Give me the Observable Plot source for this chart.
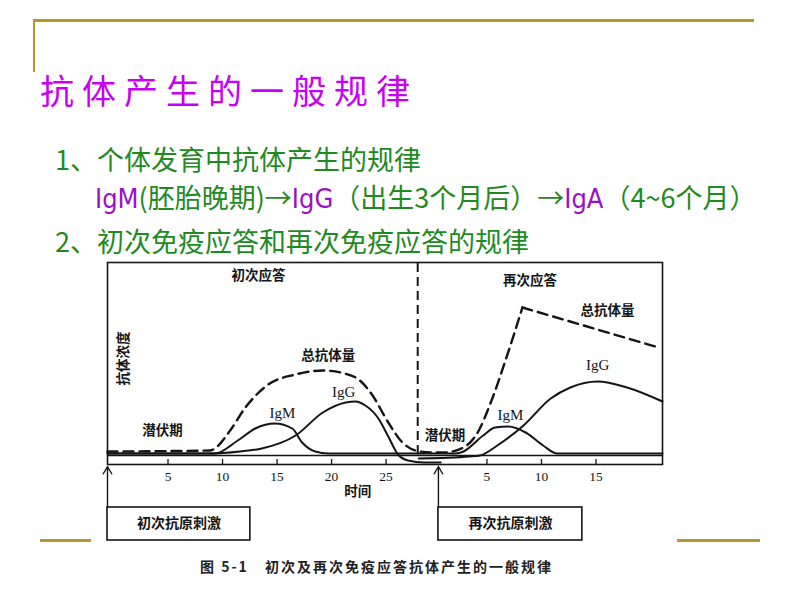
<!DOCTYPE html>
<html><head><meta charset="utf-8">
<script src="https://cdn.jsdelivr.net/npm/d3@7"></script>
<script src="https://cdn.jsdelivr.net/npm/@observablehq/plot@0.6"></script>
<style>
body{margin:0;background:#fff;}
#slide{position:relative;width:800px;height:600px;overflow:hidden;background:#fff;font-family:"Noto Sans CJK SC","Noto Sans",sans-serif;}
.gold{position:absolute;background:#b8962e;}
.t{position:absolute;white-space:nowrap;line-height:1;}
.g{color:#1f8a1f;}
.p{color:#9a10c8;font-family:"Liberation Sans Narrow","DejaVu Sans Condensed",sans-serif;}
</style></head><body>
<div id="slide">
  <div class="gold" style="left:33px;top:19px;width:721px;height:3px;"></div>
  <div class="gold" style="left:33px;top:19px;width:2px;height:53px;"></div>
  <div class="gold" style="left:40px;top:539px;width:51px;height:3px;"></div>
  <div class="gold" style="left:677px;top:539px;width:83px;height:3px;"></div>
  <div class="t" id="title" style="left:40px;top:73px;font-size:34px;letter-spacing:8px;color:#c800f5;"></div>
  <div class="t g" id="l1" style="left:55px;top:145px;font-size:27px;"></div>
  <div class="t g" id="l2" style="left:95px;top:183px;font-size:27px;"></div>
  <div class="t g" id="l3" style="left:55px;top:227px;font-size:27px;"></div>
  <div id="fig" style="position:absolute;left:95px;top:255px;"></div>
  <div class="t" id="cap" style="left:200px;top:559px;font-size:14px;font-weight:700;letter-spacing:2px;color:#222;"></div>
</div>
<script>
// ---- slide texts ----
const slideTitle = "抗体产生的一般规律";
const bullet1 = "1、个体发育中抗体产生的规律";
const bullet2Parts = [["IgM","p"],["(胚胎晚期)→","g"],["IgG","p"],["（出生3个月后）→","g"],["IgA","p"],["（4~6个月）","g"]];
const bullet3 = "2、初次免疫应答和再次免疫应答的规律";
const figCaption = "图 5-1\u2003初次及再次免疫应答抗体产生的一般规律";

// ---- figure data (time in days, concentration in arbitrary units) ----
const secondaryOffset = 29.25;      // secondary response day 0 on shared time axis
const dividerT = 27.9;              // dashed divider between the two responses
const restLine = 4.5;               // resting line
const primaryTicks = [5, 10, 15, 20, 25];
const secondaryTicks = [5, 10, 15];

const totalRise = [[-0.55,6.5],[8.9,7],[9.3,8],[10.7,17],[12.1,28.5],[14.2,40],[16.7,45],[19.2,47],[21.2,45.5],[22.6,42],[23.7,35],[25.2,21],[26.5,11],[27.7,7],[29.1,6],[30.3,6],[32.1,8.5],[33.4,16],[34.6,31],[36.1,54.5],[37.5,78.5]];
const totalDecline = [[37.5,78.5],[50.0,58.5]];
const igM1 = [[-0.55,5.5],[9.3,5.5],[11.4,12],[13.0,18],[14.8,20.5],[16.4,18],[17.3,11],[18.5,6.5],[19.7,5.5],[28.0,5.5]];
const igG1 = [[-0.55,5.5],[8.9,5.5],[11.6,6.5],[13.6,8],[16.7,14.5],[19.2,26],[21.3,31],[22.2,31.5],[23.1,29.5],[24.3,23],[25.2,14],[26.1,5],[27.0,2],[28.5,1],[30.0,1]];
const igM2 = [[28.0,5.5],[31.4,5.5],[32.1,6.5],[33.9,14.5],[35.0,18.5],[36.2,19],[37.8,16],[39.4,9.5],[40.7,5.5],[50.35,5.5]];
const igG2 = [[28.0,3],[32.7,4],[33.6,4.5],[35.2,9.5],[37.6,19.5],[40.1,33],[41.9,38.5],[44.4,41.5],[47.1,38.5],[50.35,31.5]];

const labelsCJK = [
  {text:"初次应答", t:13.3, v:94.5},
  {text:"总抗体量", t:19.7, v:54.5},
  {text:"潜伏期", t:4.5, v:17},
  {text:"再次应答", t:38.2, v:92},
  {text:"总抗体量", t:45.3, v:77},
  {text:"潜伏期", t:30.4, v:14.5},
  {text:"时间", t:22.4, v:-13.5}
];
const labelsIg = [
  {text:"IgG", t:21.1, v:36},
  {text:"IgM", t:15.5, v:25.5},
  {text:"IgG", t:44.4, v:49.5},
  {text:"IgM", t:36.4, v:24.5}
];
const yLabel = {text:"抗体浓度", t:0.9, v:53};
const stimuli = [
  {text:"初次抗原刺激", t:-0.55, x1:-0.55, x2:12.55, mid:6.0},
  {text:"再次抗原刺激", t:29.8, x1:29.8, x2:43.0, mid:36.4}
];
const boxTop = -21.5, boxBottom = -38, arrowTip = -1, tickLabelV = -6;

// ---- slide text rendering ----
document.getElementById("title").textContent = slideTitle;
document.getElementById("l1").textContent = bullet1;
document.getElementById("l3").textContent = bullet3;
document.getElementById("cap").textContent = figCaption;
const l2 = document.getElementById("l2");
for (const [s, c] of bullet2Parts) { const sp = document.createElement("span"); sp.className = c; sp.textContent = s; l2.appendChild(sp); }

// ---- figure ----
const ink = "#151515";
const X = d => d[0], Y = d => d[1];
const tickData = [...primaryTicks.map(d => ({t:d, label:String(d)})), ...secondaryTicks.map(d => ({t:d + secondaryOffset, label:String(d)}))];
const cjk = "Noto Sans CJK SC";
const chart = Plot.plot({
  width: 590, height: 295,
  marginLeft: 12, marginRight: 23, marginTop: 7, marginBottom: 86,
  x: {domain: [-0.55, 50.35], axis: null},
  y: {domain: [0, 101], axis: null},
  style: {background: "transparent", overflow: "visible", color: ink},
  marks: [
    Plot.frame({stroke: ink, strokeWidth: 1.6}),
    Plot.ruleY([restLine], {stroke: ink, strokeWidth: 1.3}),
    Plot.ruleX([dividerT], {y1: 5, y2: 101, stroke: ink, strokeWidth: 2, strokeDasharray: "9,5"}),
    Plot.line(totalRise, {x: X, y: Y, curve: "monotone-x", stroke: ink, strokeWidth: 2.4, strokeDasharray: "10,6"}),
    Plot.line(totalDecline, {x: X, y: Y, stroke: ink, strokeWidth: 2.4, strokeDasharray: "10,6"}),
    Plot.line(igM1, {x: X, y: Y, curve: "monotone-x", stroke: ink, strokeWidth: 2}),
    Plot.line(igG1, {x: X, y: Y, curve: "monotone-x", stroke: ink, strokeWidth: 2}),
    Plot.line(igM2, {x: X, y: Y, curve: "monotone-x", stroke: ink, strokeWidth: 2}),
    Plot.line(igG2, {x: X, y: Y, curve: "monotone-x", stroke: ink, strokeWidth: 2}),
    Plot.ruleX(tickData, {x: "t", y1: 0, y2: 2.5, stroke: ink, strokeWidth: 1.3}),
    Plot.text(tickData, {x: "t", y: tickLabelV, text: "label", fontSize: 13.5, fontFamily: "Liberation Serif", fill: ink}),
    Plot.text(labelsCJK, {x: "t", y: "v", text: "text", fontSize: 13.5, fontWeight: 700, fontFamily: cjk, fill: ink}),
    Plot.text(labelsIg, {x: "t", y: "v", text: "text", fontSize: 15, fontFamily: "Liberation Serif", fill: ink}),
    Plot.text([yLabel], {x: "t", y: "v", text: "text", rotate: -90, fontSize: 13.5, fontWeight: 700, fontFamily: cjk, fill: ink}),
    Plot.arrow(stimuli, {x1: "t", x2: "t", y1: boxTop, y2: arrowTip, stroke: ink, strokeWidth: 1.4, headLength: 9}),
    Plot.rect(stimuli, {x1: "x1", x2: "x2", y1: boxBottom, y2: boxTop, fill: "none", stroke: ink, strokeWidth: 1.6}),
    Plot.text(stimuli, {x: "mid", y: (boxTop + boxBottom) / 2, text: "text", fontSize: 14, fontWeight: 700, fontFamily: cjk, fill: ink})
  ]
});
document.getElementById("fig").appendChild(chart);
</script>
</body></html>
